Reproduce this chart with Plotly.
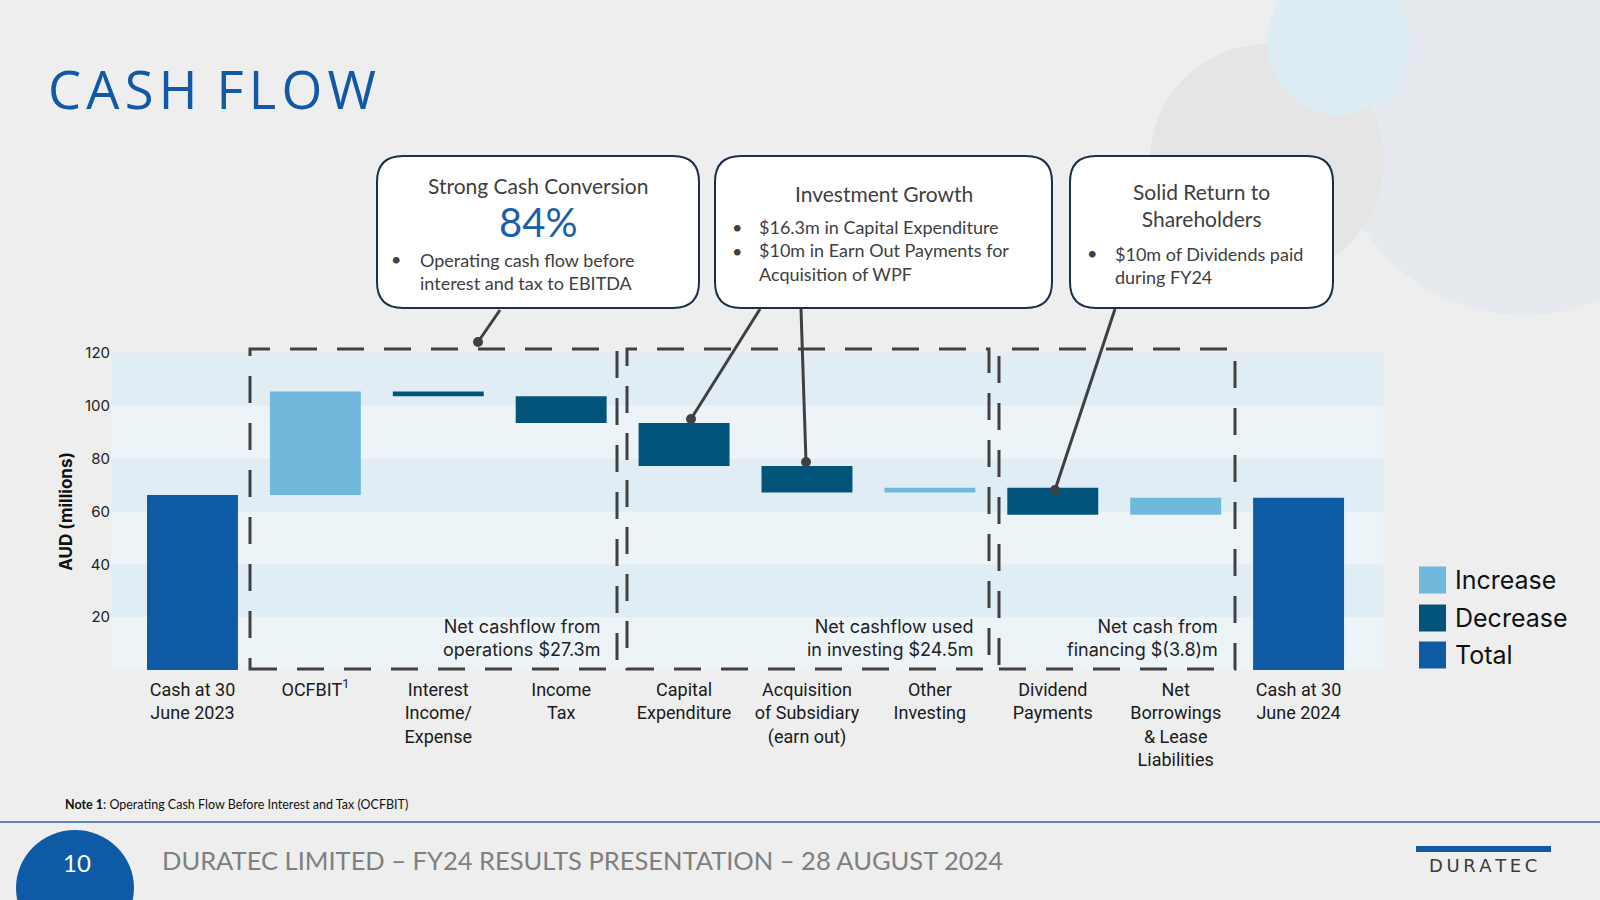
import plotly.graph_objects as go

# ---------------- data ----------------
categories = ["Cash at 30<br>June 2023", "OCFBIT<sup>1</sup>", "Interest<br>Income/<br>Expense",
              "Income<br>Tax", "Capital<br>Expenditure", "Acquisition<br>of Subsidiary<br>(earn out)",
              "Other<br>Investing", "Dividend<br>Payments", "Net<br>Borrowings<br>& Lease<br>Liabilities",
              "Cash at 30<br>June 2024"]
measures = ["absolute", "relative", "relative", "relative", "relative", "relative",
            "relative", "relative", "relative", "total"]
values = [66.2, 39.2, -1.8, -10.1, -16.3, -10.0, 1.8, -10.2, 6.4, 0]
y_ticks = [20, 40, 60, 80, 100, 120]
legend_labels = ["Increase", "Decrease", "Total"]
group_notes = ["Net cashflow from<br>operations $27.3m",
               "Net cashflow used<br>in investing $24.5m",
               "Net cash from<br>financing $(3.8)m"]

C_INC = "#70B9DC"
C_DEC = "#03547A"
C_TOT = "#0F5AA5"
DARK = "#404040"

# ---------------- geometry helpers (pixel -> paper) ----------------
L, R, T, B = 111, 1383, 353, 670
W, H = R - L, B - T


def px(x):
    return (x - L) / W


def py(y):
    return (B - y) / H


fig = go.Figure()

fig.add_trace(go.Waterfall(
    x=categories, y=values, measure=measures,
    increasing=dict(marker=dict(color=C_INC)),
    decreasing=dict(marker=dict(color=C_DEC)),
    totals=dict(marker=dict(color=C_TOT)),
    connector=dict(visible=False), textinfo="none",
    showlegend=False, hoverinfo="x+y",
))

shapes = []
annotations = []

# background bands
edges = [0] + y_ticks
for i in range(len(edges) - 1):
    shapes.append(dict(type="rect", xref="x domain", yref="y", x0=0, x1=1,
                       y0=edges[i], y1=edges[i + 1], layer="below", line_width=0,
                       fillcolor="#E0EDF5" if i % 2 == 1 else "#EDF4F8"))

# decorative circles top right
def circle(cx, cy, r, color, opacity=1.0):
    shapes.append(dict(type="circle", xref="paper", yref="paper",
                       x0=px(cx - r), x1=px(cx + r), y0=py(cy + r), y1=py(cy - r),
                       fillcolor=color, line_width=0, layer="below", opacity=opacity))

circle(1525, 120, 195, "#E6E9EE")
circle(1267, 161, 117, "#E5E5E5")
circle(1339, 43, 72, "#DBEBF4", 0.9)

# dashed group boxes
for x0, x1 in [(250, 617), (627, 989), (999, 1235)]:
    shapes.append(dict(type="rect", xref="paper", yref="paper",
                       x0=px(x0), x1=px(x1), y0=py(669), y1=py(349),
                       line=dict(color=DARK, width=3, dash="27px,20px"), fillcolor="rgba(0,0,0,0)"))

# group notes
for (xr, txt) in zip([602, 975, 1220], group_notes):
    annotations.append(dict(xref="paper", yref="paper", x=px(xr), y=py(638), text=txt,
                            showarrow=False, xanchor="right", yanchor="middle", align="right",
                            font=dict(family="Inter", size=18, color="#222222")))


# rounded callout boxes
def rounded(x0, y0, x1, y1, r):
    rx, ry = r / W, r / H
    a, b, c, d = px(x0), px(x1), py(y1), py(y0)  # left, right, bottom, top
    path = (f"M{a + rx},{d} L{b - rx},{d} Q{b},{d} {b},{d - ry} "
            f"L{b},{c + ry} Q{b},{c} {b - rx},{c} L{a + rx},{c} Q{a},{c} {a},{c + ry} "
            f"L{a},{d - ry} Q{a},{d} {a + rx},{d} Z")
    shapes.append(dict(type="path", xref="paper", yref="paper", path=path,
                       fillcolor="white", line=dict(color="#1C2E4A", width=2)))

rounded(377, 156, 699, 308, 26)
rounded(715, 156, 1052, 308, 26)
rounded(1070, 156, 1333, 308, 26)

# callout connectors
for (x0, y0, x1, y1) in [(500, 310, 478, 342), (760, 309, 691, 419),
                         (801, 309, 806, 462), (1115, 309, 1055, 490)]:
    shapes.append(dict(type="line", xref="paper", yref="paper",
                       x0=px(x0), y0=py(y0), x1=px(x1), y1=py(y1),
                       line=dict(color=DARK, width=3)))
    rr = 5
    shapes.append(dict(type="circle", xref="paper", yref="paper",
                       x0=px(x1 - rr), x1=px(x1 + rr), y0=py(y1 + rr), y1=py(y1 - rr),
                       fillcolor=DARK, line_width=0))

TXT = "#404040"
CF = "Lato"


def ann(x, y, text, size, color=TXT, xanchor="center", align="center", family=CF, **kw):
    annotations.append(dict(xref="paper", yref="paper", x=px(x), y=py(y), text=text,
                            showarrow=False, xanchor=xanchor, yanchor="middle", align=align,
                            font=dict(family=family, size=size, color=color), **kw))

# box 1
ann(538, 185, "Strong Cash Conversion", 21)
ann(538, 222, "84%", 40, color="#1B5FAA")
ann(396, 259, "•", 18)
ann(418, 271, "Operating cash flow before<br>interest and tax to EBITDA", 18, xanchor="left", align="left")
# box 2
ann(884, 193, "Investment Growth", 21)
ann(737, 226.5, "•", 18)
ann(737, 251, "•", 18)
ann(757, 250.5, "$16.3m in Capital Expenditure<br>$10m in Earn Out Payments for<br>Acquisition of WPF", 18,
    xanchor="left", align="left")
# box 3
ann(1201, 204.5, "Solid Return to<br>Shareholders", 21)
ann(1092, 253, "•", 18)
ann(1113, 265, "$10m of Dividends paid<br>during FY24", 18, xanchor="left", align="left")

# title
ann(46, 88, "C\u200aA\u200aS\u200aH\u200a F\u200aL\u200aO\u200aW", 52.5, color="#1159A6",
    xanchor="left", align="left", family="Open Sans")

# manual legend
leg_colors = [C_INC, C_DEC, C_TOT]
for lab, col, yc in zip(legend_labels, leg_colors, [580, 618, 655]):
    shapes.append(dict(type="rect", xref="paper", yref="paper",
                       x0=px(1419), x1=px(1446), y0=py(yc + 13.5), y1=py(yc - 13.5),
                       fillcolor=col, line_width=0))
    ann(1453, yc, lab, 25, color="#111111", xanchor="left", align="left", family="Inter")

# footer
shapes.append(dict(type="line", xref="paper", yref="paper", x0=px(0), x1=px(1600),
                   y0=py(822), y1=py(822), line=dict(color="#5B86BE", width=2)))
ann(63, 804, "<b>Note 1</b>: Operating Cash Flow Before Interest and Tax (OCFBIT)", 12.5,
    color="#111111", xanchor="left", align="left")
shapes.append(dict(type="circle", xref="paper", yref="paper",
                   x0=px(16), x1=px(134), y0=py(946), y1=py(830), fillcolor="#0F5AA5", line_width=0))
ann(77, 862, "10", 24, color="white")
ann(160, 860, "DURATEC LIMITED – FY24 RESULTS PRESENTATION – 28 AUGUST 2024", 25.5,
    color="#7F7F7F", xanchor="left", align="left")
# logo
shapes.append(dict(type="rect", xref="paper", yref="paper", x0=px(1416), x1=px(1551),
                   y0=py(852), y1=py(846), fillcolor="#0F5AA5", line_width=0))
ann(1483, 865, "D\u2009U\u2009R\u2009A\u2009T\u2009E\u2009C", 18, color="#3A3A3A", family="DejaVu Sans")

fig.update_layout(
    width=1600, height=900,
    margin=dict(l=L, r=1600 - R, t=T, b=900 - B),
    paper_bgcolor="#EEEEEE", plot_bgcolor="#EDF4F8",
    waterfallgap=0.26,
    shapes=shapes, annotations=annotations,
    showlegend=False,
    xaxis=dict(range=[-0.663, 9.687], showgrid=False, zeroline=False, showline=False,
               ticks="", ticklabelstandoff=7,
               tickfont=dict(family="Liberation Sans Narrow, Roboto, sans-serif",
                             size=18, color="#1A1A1A")),
    yaxis=dict(range=[0, 120], tickvals=y_ticks, showgrid=False, zeroline=False,
               showline=False, ticks="", tickfont=dict(family="Inter", size=15, color="#222222"),
               title=dict(text="<b>AUD (millions)</b>", standoff=8,
                          font=dict(family="Inter", size=17, color="#111111"))),
)

fig.write_html("out.html", config={"displayModeBar": False},
               post_script="document.body.style.margin='0px';")
